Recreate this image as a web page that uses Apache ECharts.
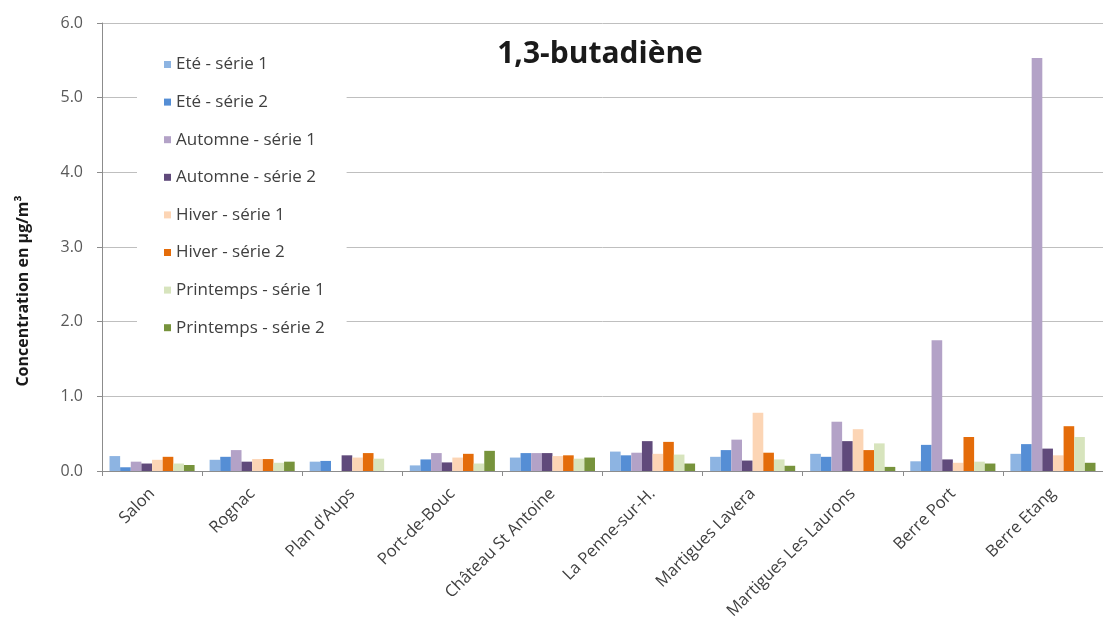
<!DOCTYPE html>
<html>
<head>
<meta charset="utf-8">
<script src="https://cdn.jsdelivr.net/npm/echarts@6/dist/echarts.min.js"></script>
<style>
  html, body { margin: 0; padding: 0; background: #fff; }
  #chart { width: 1103px; height: 626px; }
</style>
</head>
<body>
<div id="chart"></div>
<script>
// Sampling sites
const sites = ['Salon', 'Rognac', "Plan d'Aups", 'Port-de-Bouc', 'Château St Antoine',
  'La Penne-sur-H.', 'Martigues Lavera', 'Martigues Les Laurons', 'Berre Port', 'Berre Etang'];

// 1,3-butadiène concentrations (µg/m³), one array per campaign
const eteSerie1       = [0.20, 0.15, 0.125, 0.075, 0.18, 0.26, 0.19, 0.23, 0.13, 0.23];
const eteSerie2       = [0.05, 0.19, 0.135, 0.155, 0.24, 0.21, 0.28, 0.19, 0.35, 0.36];
const automneSerie1   = [0.125, 0.28, 0.0, 0.24, 0.24, 0.245, 0.42, 0.66, 1.75, 5.53];
const automneSerie2   = [0.10, 0.125, 0.21, 0.115, 0.24, 0.40, 0.14, 0.40, 0.155, 0.30];
const hiverSerie1     = [0.15, 0.16, 0.18, 0.18, 0.20, 0.23, 0.78, 0.56, 0.11, 0.21];
const hiverSerie2     = [0.19, 0.16, 0.24, 0.23, 0.21, 0.39, 0.245, 0.28, 0.455, 0.60];
const printempsSerie1 = [0.10, 0.11, 0.165, 0.10, 0.165, 0.22, 0.155, 0.37, 0.125, 0.455];
const printempsSerie2 = [0.08, 0.125, 0.0, 0.27, 0.18, 0.10, 0.07, 0.055, 0.10, 0.11];

const seriesNames = ['Eté - série 1', 'Eté - série 2', 'Automne - série 1', 'Automne - série 2',
  'Hiver - série 1', 'Hiver - série 2', 'Printemps - série 1', 'Printemps - série 2'];
const seriesValues = [eteSerie1, eteSerie2, automneSerie1, automneSerie2,
  hiverSerie1, hiverSerie2, printempsSerie1, printempsSerie2];
const seriesColors = ['#8DB4E2', '#558ED5', '#B3A2C7', '#604A7B',
  '#FCD5B5', '#E46C0A', '#D7E4BD', '#77933C'];

const yTicks = [0, 1, 2, 3, 4, 5, 6];
const yAxisTitle = 'Concentration en µg/m³';

const FONT = '"Open Sans", Lato, sans-serif';

const chart = echarts.init(document.getElementById('chart'), null, { renderer: 'canvas' });

chart.setOption({
  backgroundColor: '#fff',
  animation: false,
  textStyle: { fontFamily: FONT },
  title: {
    text: '1,3-butadiène',
    left: 595,
    top: 34,
    textAlign: 'center',
    textStyle: { fontFamily: FONT, fontWeight: 'bold', fontSize: 30, color: '#1a1a1a' }
  },
  legend: {
    orient: 'vertical',
    left: 137,
    top: 40,
    padding: [16, 22, 16, 27],
    backgroundColor: '#fff',
    itemWidth: 7,
    itemHeight: 7,
    itemGap: 20.6,
    icon: 'rect',
    textStyle: { fontFamily: FONT, fontSize: 17, lineHeight: 17, color: '#404040' },
    data: seriesNames
  },
  // rotated y-axis title
  graphic: [{
    type: 'text',
    x: 23,
    y: 291,
    rotation: Math.PI / 2,
    style: {
      text: yAxisTitle,
      fontFamily: FONT,
      fontWeight: 'bold',
      fontSize: 16,
      fill: '#1a1a1a',
      textAlign: 'center',
      textVerticalAlign: 'middle'
    }
  }],
  grid: { left: 102, right: 0, top: 23, bottom: 155, containLabel: false },
  xAxis: {
    type: 'category',
    data: sites,
    axisLine: { lineStyle: { color: '#8c8c8c', width: 1 } },
    axisTick: { show: true, length: 5, lineStyle: { color: '#8c8c8c' } },
    axisLabel: {
      interval: 0,
      rotate: 45,
      margin: 20,
      fontFamily: FONT,
      fontSize: 16.5,
      color: '#404040'
    }
  },
  yAxis: {
    type: 'value',
    min: yTicks[0],
    max: yTicks[yTicks.length - 1],
    interval: 1,
    axisLine: { show: true, lineStyle: { color: '#8c8c8c', width: 1 } },
    axisTick: { show: true, length: 5, lineStyle: { color: '#8c8c8c' } },
    axisLabel: {
      margin: 19,
      fontFamily: FONT,
      fontSize: 16,
      color: '#595959',
      formatter: v => v.toFixed(1)
    },
    splitLine: { show: true, lineStyle: { color: '#bfbfbf', width: 1 } }
  },
  series: seriesNames.map((name, i) => ({
    name: name,
    type: 'bar',
    data: seriesValues[i],
    barGap: '0%',
    barCategoryGap: '15%',
    itemStyle: { color: seriesColors[i] }
  }))
});
</script>
</body>
</html>
